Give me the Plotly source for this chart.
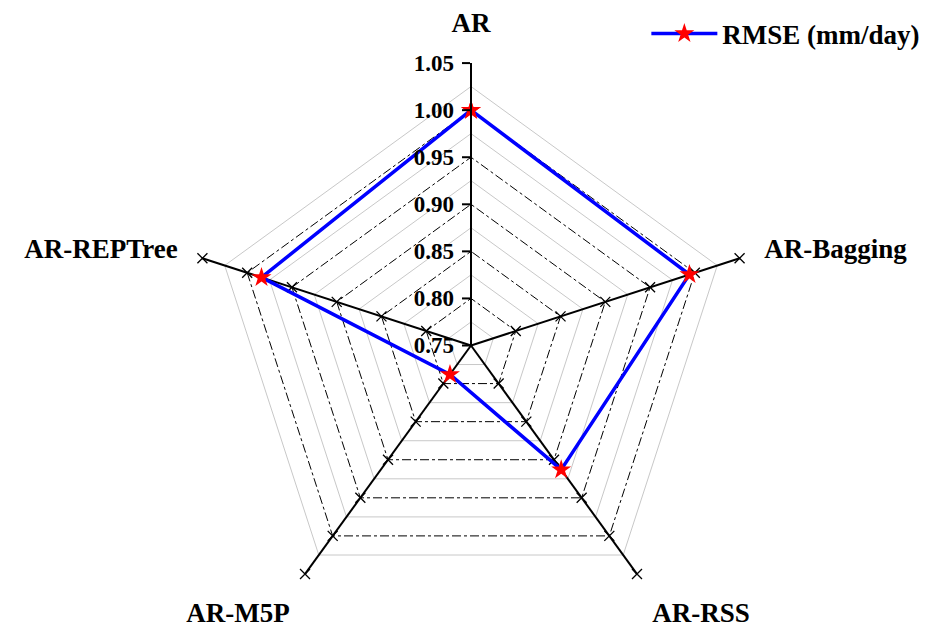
import plotly.graph_objects as go

# ---- data ----
categories = ["AR", "AR-Bagging", "AR-RSS", "AR-M5P", "AR-REPTree"]
rmse = [1.000, 0.994, 0.913, 0.788, 0.984]
series_name = "RMSE (mm/day)"
major_ticks = [0.75, 0.80, 0.85, 0.90, 0.95, 1.00, 1.05]
major_labels = ["0.75", "0.80", "0.85", "0.90", "0.95", "1.00", "1.05"]
minor_ticks = [0.775, 0.825, 0.875, 0.925, 0.975, 1.025]
r_min, r_max = 0.75, 1.05

FONT = "Times New Roman, Liberation Serif, serif"

fig = go.Figure()

# invisible trace so bottom polar knows its categories
fig.add_trace(go.Scatterpolar(
    r=[r_min] * len(categories), theta=categories, mode="lines",
    line=dict(width=0, color="rgba(0,0,0,0)"), showlegend=False,
    hoverinfo="skip", subplot="polar"))

# tick crosses on the spokes (except the labelled radial axis)
tick_r, tick_theta = [], []
for c in categories[1:]:
    for t in major_ticks[1:]:
        tick_r.append(t)
        tick_theta.append(c)
fig.add_trace(go.Scatterpolar(
    r=tick_r, theta=tick_theta, mode="markers",
    marker=dict(symbol="x-thin", size=10, line=dict(width=1.3, color="black")),
    showlegend=False, hoverinfo="skip", subplot="polar2"))

# data series
fig.add_trace(go.Scatterpolar(
    r=rmse + [rmse[0]], theta=categories + [categories[0]],
    mode="lines+markers", name=series_name,
    line=dict(color="#0000ff", width=3.5),
    marker=dict(symbol="star", color="#ff0000", size=15, line=dict(width=0)),
    subplot="polar2"))

# centre star
fig.add_trace(go.Scatterpolar(
    r=[r_min], theta=[categories[0]], mode="markers",
    marker=dict(symbol="star", color="black", size=16),
    showlegend=False, hoverinfo="skip", subplot="polar2"))

dom = dict(x=[188 / 930, 754 / 930], y=[0, 565 / 628])

fig.update_layout(
    width=930, height=628, autosize=False,
    margin=dict(l=0, r=0, t=0, b=0, pad=0),
    paper_bgcolor="white",
    font=dict(family=FONT, color="black"),
    polar=dict(
        domain=dom, gridshape="linear", bgcolor="white",
        radialaxis=dict(range=[r_min, r_max], tickvals=minor_ticks,
                        showticklabels=False, ticks="", showline=False,
                        gridcolor="#c8c8c8", gridwidth=1),
        angularaxis=dict(type="category", categoryarray=categories,
                         rotation=90, direction="clockwise",
                         showgrid=False, showline=False,
                         showticklabels=False, ticks=""),
    ),
    polar2=dict(
        domain=dom, gridshape="linear", bgcolor="rgba(0,0,0,0)",
        radialaxis=dict(range=[r_min, r_max + 0.0001], tickvals=major_ticks,
                        ticktext=major_labels, angle=90, tickangle=90,
                        side="counterclockwise",
                        ticks="outside", ticklen=8, tickwidth=2,
                        tickcolor="black",
                        showline=True, linecolor="black", linewidth=2,
                        gridcolor="black", griddash="dashdot", gridwidth=1,
                        tickfont=dict(family=FONT, size=23, weight="bold",
                                      color="black")),
        angularaxis=dict(type="category", categoryarray=categories,
                         rotation=90, direction="clockwise",
                         showgrid=True, gridcolor="black", gridwidth=1.5,
                         showline=False,
                         ticks="outside", ticklen=20,
                         tickcolor="rgba(0,0,0,0)",
                         tickfont=dict(family=FONT, size=27, weight="bold",
                                       color="black")),
    ),
    legend=dict(x=0.995, xanchor="right", y=0.985,
                yanchor="top", itemwidth=66, bgcolor="rgba(0,0,0,0)",
                font=dict(family=FONT, size=27, weight="bold",
                          color="black")),
    showlegend=True,
)

fig.write_html("out.html",
               config={"displayModeBar": False},
               post_script="document.body.style.margin='0';")
